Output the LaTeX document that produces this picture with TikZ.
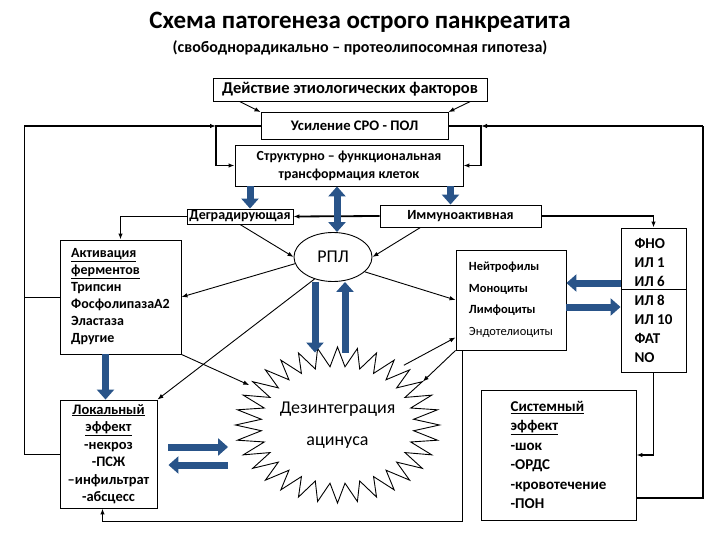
\documentclass[tikz,border=0pt]{standalone}
\usepackage{fontspec}
\setmainfont{Carlito}
\usepackage{tikz}
\usetikzlibrary{arrows.meta,shapes.geometric}

\definecolor{fatblue}{RGB}{41,84,137}

\begin{document}
\begin{tikzpicture}[
  x=1pt, y=-1pt,
  line width=0.9pt,
  box/.style={draw,rectangle,inner sep=0pt},
  arr/.style={-{Latex[length=6pt,width=4.5pt]}},
  fb/.style={line width=1.8pt},
  fat/.style={draw=fatblue,line width=7pt,-{Triangle[width=17pt,length=10pt]}},
  fatboth/.style={draw=fatblue,line width=7pt,{Triangle[width=17pt,length=10pt]}-{Triangle[width=17pt,length=10pt]}}
]
  \useasboundingbox (0,0) rectangle (720,540);

  % titles
  \node[font=\fontsize{25}{28}\selectfont\bfseries] (title) at (360,22) {Схема патогенеза острого панкреатита};
  \node[font=\fontsize{16}{18}\selectfont\bfseries] (subtitle) at (360,48) {(свободнорадикально – протеолипосомная гипотеза)};

  % upper chain
  \node[box,minimum width=274,minimum height=23,font=\fontsize{16.5}{18}\selectfont\bfseries] (deist) at (350,89.5) {Действие этиологических факторов};
  \node[box,minimum width=187,minimum height=27,font=\fontsize{14.6}{17}\selectfont\bfseries] (usil) at (354.5,126) {Усиление СРО - ПОЛ};
  \node[box,minimum width=228,minimum height=41,align=center,font=\fontsize{13.9}{18}\selectfont\bfseries] (struct) at (349,165.5) {Структурно – функциональная\\трансформация  клеток};
  \node[box,minimum width=106,minimum height=15,font=\fontsize{14}{16}\selectfont\bfseries] (degr) at (240,216.5) {Деградирующая};
  \node[box,minimum width=161,minimum height=22,font=\fontsize{14}{16}\selectfont\bfseries] (immu) at (460.5,216) {Иммуноактивная};

  % middle level
  \node[draw,ellipse,minimum width=78,minimum height=49,inner sep=0pt,font=\fontsize{18}{20}\selectfont] (rpl) at (333,257) {РПЛ};
  \node[box,minimum width=121,minimum height=114,align=left,font=\fontsize{14}{17}\selectfont\bfseries] (akt) at (120.5,297)
    {\underline{Активация}\\\underline{ферментов}\\Трипсин\\ФосфолипазаА2\\Эластаза\\Другие};
  \node[box,minimum width=110,minimum height=100,align=left,font=\fontsize{12.5}{21.5}\selectfont] (neut) at (511,300)
    {\textbf{Нейтрофилы}\\\textbf{Моноциты}\\\textbf{Лимфоциты}\\Эндотелиоциты};
  \node[box,minimum width=65,minimum height=144,align=left,font=\fontsize{15}{19}\selectfont\bfseries] (fno) at (653.5,300)
    {ФНО\\ИЛ 1\\ИЛ 6\\ИЛ 8\\ИЛ 10\\ФАТ\\NO};
  \draw ([yshift=11pt]fno.west) -- ([yshift=11pt]fno.east);

  % lower level
  \node[box,minimum width=97,minimum height=108,align=center,font=\fontsize{14.5}{17.5}\selectfont\bfseries] (lok) at (108.5,454)
    {\underline{Локальный}\\\underline{эффект}\\-некроз\\-ПСЖ\\–инфильтрат\\-абсцесс};
  \node[ellipse,minimum width=204,minimum height=156,inner sep=0pt,align=center,font=\fontsize{18}{32}\selectfont] (dez) at (337.5,425)
    {Дезинтеграция\\ацинуса};
  \node[box,minimum width=155,minimum height=130,align=left,font=\fontsize{15}{19.5}\selectfont\bfseries] (sys) at (558.5,455)
    {\underline{Системный}\\\underline{эффект}\\-шок\\-ОРДС\\-кровотечение\\-ПОН};

  % star of the acinus
  \draw[shift={(dez.center)}] (90:102 and 78)
    \foreach \i in {0,...,31}{ -- ({95.625+\i*11.25}:76.5 and 58.5) -- ({101.25+\i*11.25}:102 and 78) } -- cycle;

  % loop points
  \coordinate (lt) at (24,126);
  \coordinate (lb) at (216,126);
  \coordinate (rb) at (481,126);
  \coordinate (rt) at (703,126);

  % upper arrows
  \draw[arr] ([xshift=27pt]deist.south west) -- (usil.north west);
  \draw[arr] ([xshift=-17pt]deist.south east) -- (usil.north east);
  \draw[fb,arr] (usil.west) -- (lb) |- (struct.west);
  \draw[fb,arr] (usil.east) -- (rb) |- (struct.east);
  \draw[fb,arr] (immu.west) -- (degr.east);
  \draw[fb,arr] (degr.west) -| (akt.north);
  \draw[fb,arr] (immu.east) -| (fno.north);

  % feedback loops
  \draw (lok.west) -| (lt);
  \draw (akt.west) -- (akt.west -| lt);
  \draw[fb,arr] (lt) -- (lb);
  \draw[line width=1.4pt] ([yshift=-43pt]sys.east) -| (rt);
  \draw[fb,arr] (rt) -- (rb);
  \draw[fb,arr] (fno.south) |- (sys.east);
  \draw[line width=1.2pt,arr] ([xshift=7pt]neut.south west) -- ++(0,171) -| ([xshift=-6pt]lok.south);

  % thin arrows
  \draw[arr] (degr.south) -- (rpl.west);
  \draw[arr] ([xshift=-40pt]immu.south) -- (rpl.east);
  \draw[arr] (rpl.190) -- (akt.east);
  \draw[arr] (rpl.230) -- (lok.north east);
  \draw[arr] (rpl.-25) -- (neut.west);
  \draw[arr] (akt.south east) -- (dez);
  \draw[arr] (dez.42) -- ([yshift=13pt]neut.south west);
  \draw[arr] (neut.south west) -- (dez.27);

  % fat arrows
  \draw[fat] ([xshift=10pt]degr.north |- struct.south) -- ([xshift=10pt]degr.north);
  \draw[fat] ([xshift=-10pt]immu.north |- struct.south) -- ([xshift=-10pt]immu.north);
  \draw[fatboth] ([xshift=4pt]rpl.north |- struct.south) -- ([xshift=4pt]rpl.north);
  \draw[fat,shorten >=-6pt] ([xshift=-18pt]rpl.south) -- ([xshift=-18pt]rpl.south |- dez.north);
  \draw[fat,shorten <=-6pt] ([xshift=12pt]rpl.south |- dez.north) -- ([xshift=12pt]rpl.south);
  \draw[fat] ([xshift=-15pt]akt.south) -- ([xshift=-15pt]akt.south |- lok.north);
  \draw[fat,shorten <=11pt,shorten >=7pt] ([yshift=7pt]lok.east) -- ([yshift=7pt]lok.east -| dez.west);
  \draw[fat,shorten <=7pt,shorten >=11pt] ([yshift=-11pt]lok.east -| dez.west) -- ([yshift=-11pt]lok.east);
  \draw[fat] ([yshift=17pt]fno.west) -- ([yshift=17pt]fno.west -| neut.east);
  \draw[fat] ([yshift=-7pt]neut.east) -- ([yshift=-7pt]neut.east -| fno.west);

\end{tikzpicture}
\end{document}
